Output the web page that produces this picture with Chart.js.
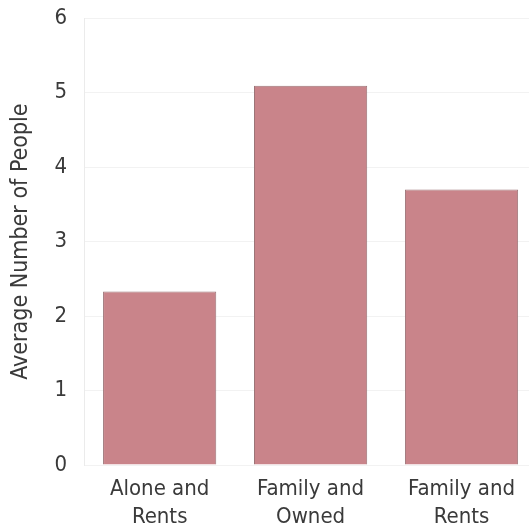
<!DOCTYPE html>
<html>
<head>
<meta charset="utf-8">
<script src="https://cdn.jsdelivr.net/npm/chart.js@4"></script>
<style>
  html, body { margin: 0; padding: 0; background: #fff; overflow: hidden; }
  #wrap { width: 537px; height: 531px; }
</style>
</head>
<body>
<div id="wrap"><canvas id="chart" width="537" height="531"></canvas></div>
<script>
const categories = [['Alone and', 'Rents'], ['Family and', 'Owned'], ['Family and', 'Rents']];
const avgPeople = [2.33, 5.09, 3.70];
const yTicks = [0, 1, 2, 3, 4, 5, 6];

// keep the plot edges where the reference has them
const noEdgePadding = (scale) => { scale.paddingTop = 0; scale.paddingBottom = 0; };

const ctx = document.getElementById('chart').getContext('2d');
new Chart(ctx, {
  type: 'bar',
  data: {
    labels: categories,
    datasets: [{
      label: 'Average Number of People',
      data: avgPeople,
      backgroundColor: '#c9848a',
      borderColor: '#9c7477',
      borderWidth: 1,
      categoryPercentage: 0.75,
      barPercentage: 1.0,
    }],
  },
  options: {
    responsive: false,
    animation: false,
    layout: { padding: { top: 18, left: 7, right: 0, bottom: -2 } },
    plugins: { legend: { display: false }, tooltip: { enabled: false } },
    scales: {
      x: {
        grid: { display: false },
        border: { display: false },
        afterFit: noEdgePadding,
        ticks: {
          color: '#3a3a3a',
          font: { family: 'DejaVu Sans Condensed', size: 22, lineHeight: 1.27 },
          padding: 2,
          maxRotation: 0,
        },
      },
      y: {
        min: 0,
        max: 6,
        afterBuildTicks: (axis) => { axis.ticks = yTicks.map(v => ({ value: v })); },
        afterFit: noEdgePadding,
        grid: { color: '#f2f2f2', drawTicks: false },
        border: { color: '#ebebeb' },
        ticks: {
          color: '#3a3a3a',
          font: { family: 'DejaVu Sans Condensed', size: 22 },
          padding: 17,
        },
        title: {
          display: true,
          text: 'Average Number of People',
          color: '#3a3a3a',
          font: { family: 'DejaVu Sans Condensed', size: 23 },
          padding: { top: 0, bottom: 3 },
        },
      },
    },
  },
});
</script>
</body>
</html>
